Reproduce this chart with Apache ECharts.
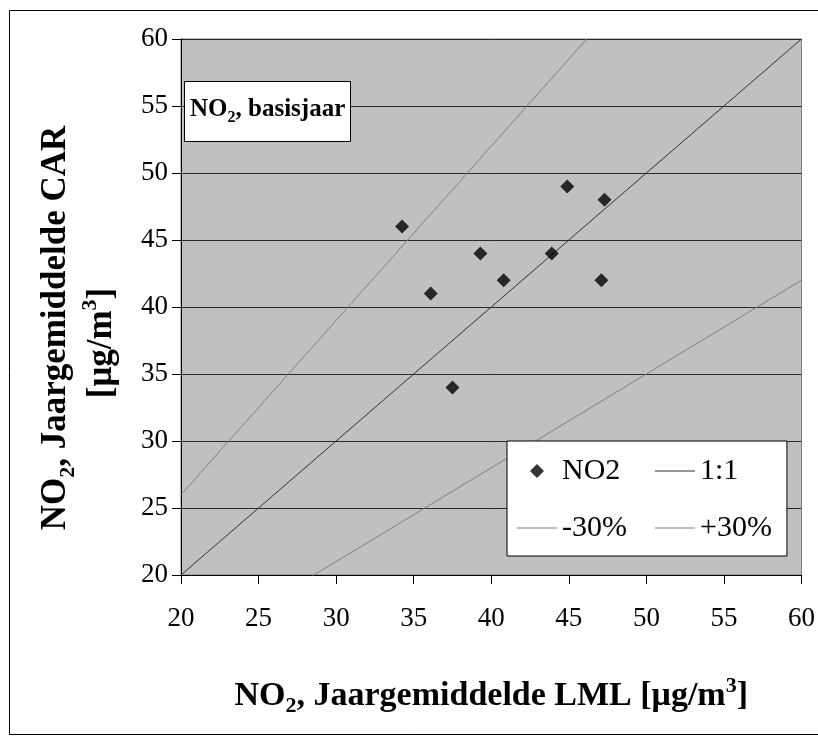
<!DOCTYPE html>
<html>
<head>
<meta charset="utf-8">
<script src="https://cdn.jsdelivr.net/npm/echarts@6/dist/echarts.min.js"></script>
<style>
  html, body { margin: 0; padding: 0; background: #fff; }
  #chart { width: 818px; height: 744px; }
</style>
</head>
<body>
<div id="chart"></div>
<script>
// Measured annual means (µg/m3)
const lmlValues = [34.25, 36.1, 37.5, 39.3, 40.8, 43.9, 44.9, 47.1, 47.3];
const carValues = [46, 41, 34, 44, 42, 44, 49, 42, 48];

// Reference lines, read at x = 20 and x = 60
const lineX = [20, 60];
const oneToOneY = [20, 60];
const minus30Y = [14, 42];
const plus30Y = [26, 78];

const seriesNames = ['NO2', '1:1', '-30%', '+30%'];
const axisTicks = [20, 25, 30, 35, 40, 45, 50, 55, 60];

const FONT = '"Liberation Serif", "Times New Roman", serif';

function pairs(xs, ys) { return xs.map((x, i) => [x, ys[i]]); }

const chart = echarts.init(document.getElementById('chart'), null, { renderer: 'canvas' });

const titleRich = {
  b: { fontFamily: FONT, fontWeight: 'bold', fontSize: 25, color: '#000', lineHeight: 32 },
  s: { fontFamily: FONT, fontWeight: 'bold', fontSize: 16, color: '#000', lineHeight: 19, verticalAlign: 'bottom' }
};
function nameRich(size, lh) {
  const base = { fontFamily: FONT, fontWeight: 'bold', fontSize: size, color: '#000', lineHeight: lh };
  return {
    b: base,
    s: Object.assign({}, base, { fontSize: Math.round(size * 0.64), lineHeight: Math.round(lh * 0.6), verticalAlign: 'bottom' }),
    p: Object.assign({}, base, { fontSize: Math.round(size * 0.64), lineHeight: Math.round(lh * 0.5), verticalAlign: 'top' }),
    e1: Object.assign({}, base, { padding: [0, 42, 0, 0] }),
    e2: Object.assign({}, base, { padding: [0, 72, 0, 0] })
  };
}

const lineLegendIcon = 'path://M0,0H40V1.2H0Z';
const diamondLegendIcon = 'path://M7,0L14,7L7,14L0,7Z';

const option = {
  backgroundColor: '#fff',
  animation: false,
  graphic: [{
    type: 'rect',
    shape: { x: 9.5, y: 10.5, width: 840, height: 724 },
    style: { fill: 'none', stroke: '#000', lineWidth: 1 },
    silent: true,
    z: 0
  }],
  title: {
    text: '{b|NO}{s|2}{b|, basisjaar}',
    left: 184,
    top: 78,
    padding: [16, 6, 16, 6],
    backgroundColor: '#fff',
    borderColor: '#000',
    borderWidth: 1,
    textStyle: { rich: titleRich }
  },
  legend: {
    data: [
      { name: seriesNames[0], icon: diamondLegendIcon },
      { name: seriesNames[1], icon: lineLegendIcon },
      { name: seriesNames[2], icon: lineLegendIcon },
      { name: seriesNames[3], icon: lineLegendIcon }
    ],
    left: 507,
    top: 441,
    width: 300,
    orient: 'horizontal',
    symbolKeepAspect: true,
    backgroundColor: '#fff',
    borderColor: '#000',
    borderWidth: 1,
    padding: [15, 15, 13, 10],
    itemWidth: 40,
    itemHeight: 14,
    itemGap: 27,
    formatter: '{t|{name}}',
    textStyle: {
      rich: { t: { fontFamily: FONT, fontSize: 30, color: '#000', width: 66, lineHeight: 28 } }
    }
  },
  grid: {
    left: 181,
    right: 13,
    top: 39,
    bottom: 169,
    show: true,
    backgroundColor: '#c0c0c0',
    borderColor: '#808080',
    borderWidth: 1
  },
  xAxis: {
    type: 'value',
    min: 20,
    max: 60,
    interval: 5,
    name: '{b|NO}{s|2}{b|, Jaargemiddelde LML [μg/m}{p|3}{b|]}',
    nameLocation: 'middle',
    nameGap: 100,
    nameTextStyle: { rich: nameRich(34, 42) },
    axisLine: { show: true, onZero: false, lineStyle: { color: '#000', width: 1 } },
    axisTick: { show: true, inside: false, length: 9, lineStyle: { color: '#000' } },
    axisLabel: {
      fontFamily: FONT, fontSize: 27, color: '#000', margin: 30,
      formatter: v => axisTicks.includes(v) ? String(v) : ''
    },
    splitLine: { show: false }
  },
  yAxis: {
    type: 'value',
    min: 20,
    max: 60,
    interval: 5,
    name: '{b|NO}{s|2}{e1|, Jaargemiddelde CAR}\n{b|[μg/m}{p|3}{e2|]}',
    nameLocation: 'middle',
    nameRotate: 90,
    nameGap: 56,
    nameTextStyle: { rich: nameRich(35, 46), align: 'center' },
    axisLine: { show: true, onZero: false, lineStyle: { color: '#000', width: 1 } },
    axisTick: { show: true, inside: false, length: 9, lineStyle: { color: '#000' } },
    axisLabel: {
      fontFamily: FONT, fontSize: 27, color: '#000', margin: 13,
      formatter: v => axisTicks.includes(v) ? String(v) : ''
    },
    splitLine: { show: true, lineStyle: { color: '#2a2a2a', width: 1 } }
  },
  series: [
    {
      name: 'NO2',
      type: 'scatter',
      symbol: 'diamond',
      symbolSize: 14,
      color: '#000',
      itemStyle: { color: '#000' },
      data: pairs(lmlValues, carValues),
      z: 5
    },
    {
      name: '1:1',
      type: 'line',
      symbol: 'none',
      color: '#333',
      lineStyle: { color: '#333', width: 1 },
      data: pairs(lineX, oneToOneY),
      z: 3
    },
    {
      name: '-30%',
      type: 'line',
      symbol: 'none',
      color: '#808080',
      lineStyle: { color: '#808080', width: 1 },
      data: pairs(lineX, minus30Y),
      z: 3
    },
    {
      name: '+30%',
      type: 'line',
      symbol: 'none',
      color: '#808080',
      lineStyle: { color: '#808080', width: 1 },
      data: pairs(lineX, plus30Y),
      z: 3
    }
  ]
};

chart.setOption(option);
</script>
</body>
</html>
